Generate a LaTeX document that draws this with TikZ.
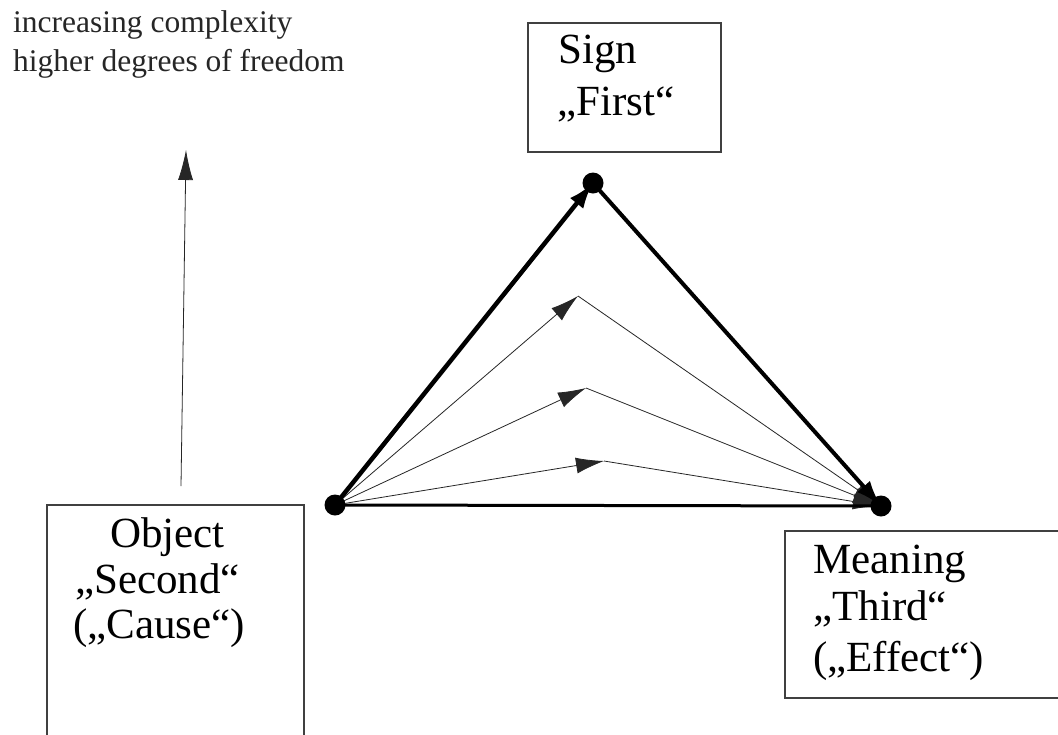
\documentclass[tikz,border=0pt]{standalone}
\usepackage{fontspec}
\setmainfont{Liberation Serif}
\usetikzlibrary{arrows.meta}
\tikzset{
  boxshape/.style={draw=black!75, line width=1.1pt, rectangle, inner sep=0pt},
  boxtext/.style={anchor=base west, inner sep=0pt, font=\fontsize{43}{50}\selectfont},
  toptext/.style={anchor=base west, inner sep=0pt, font=\fontsize{31.5}{39}\selectfont, text=black!85},
  dotnode/.style={circle, fill=black, minimum size=21pt, inner sep=0pt},
  thickedge/.style={line width=4.5pt, -{Latex[length=26pt,width=17pt]}},
  baseedge/.style={line width=3pt},
  thinedge/.style={line width=0.8pt, draw=black!85, -{Latex[length=28pt,width=16pt]}},
  uparrow/.style={line width=0.8pt, draw=black!85, -{Latex[length=30pt,width=15pt]}}
}
\begin{document}
\begin{tikzpicture}[x=1pt,y=-1pt]
\useasboundingbox (0,0) rectangle (1058,734);
\fill[white] (0,0) rectangle (1058,734);

% boxes
\node[boxshape, minimum width=193pt, minimum height=129pt] (signbox) at (624.5,87.5) {};
\node[boxshape, minimum width=257pt, minimum height=255pt] (objbox) at (175.5,632.5) {};
\node[boxshape, minimum width=285pt, minimum height=167pt] (meanbox) at (927.5,614.5) {};

% box texts
\node[boxtext] (sign1) at (558,63) {Sign};
\node[boxtext] (sign2) at (557,115) {„First“};
\node[boxtext] (obj1) at (110,547) {Object};
\node[boxtext] (obj2) at (75,593) {„Second“};
\node[boxtext] (obj3) at (73,638) {(„Cause“)};
\node[boxtext] (mean1) at (813,573) {Meaning};
\node[boxtext] (mean2) at (813,620) {„Third“};
\node[boxtext] (mean3) at (813,671) {(„Effect“)};

% top-left text
\node[toptext] (top1) at (13,32) {increasing complexity};
\node[toptext] (top2) at (13,71) {higher degrees of freedom};

% vertical arrow
\coordinate (up0) at (181,486);
\coordinate (up1) at (186,150);
\draw[uparrow] (up0) -- (up1);

% triangle vertices
\coordinate (O) at (335,505);
\coordinate (S) at (593,183);
\coordinate (M) at (881,506);

% apex points of the thin paths
\coordinate (a1) at (578,296);
\coordinate (a2) at (586,388);
\coordinate (a3) at (604,461);

% thin paths
\draw[thinedge] (O) -- (a1);
\draw[thinedge] (a1) -- (M);
\draw[thinedge] (O) -- (a2);
\draw[thinedge] (a2) -- (M);
\draw[thinedge] (O) -- (a3);
\draw[thinedge] (a3) -- (M);

% thick triangle
\draw[baseedge] (O) -- (M);
\draw[thickedge] (O) -- (S);
\draw[thickedge, line width=4pt] (S) -- (M);

% dots
\node[dotnode] (dotO) at (O) {};
\node[dotnode] (dotS) at (S) {};
\node[dotnode] (dotM) at (M) {};
\end{tikzpicture}
\end{document}
